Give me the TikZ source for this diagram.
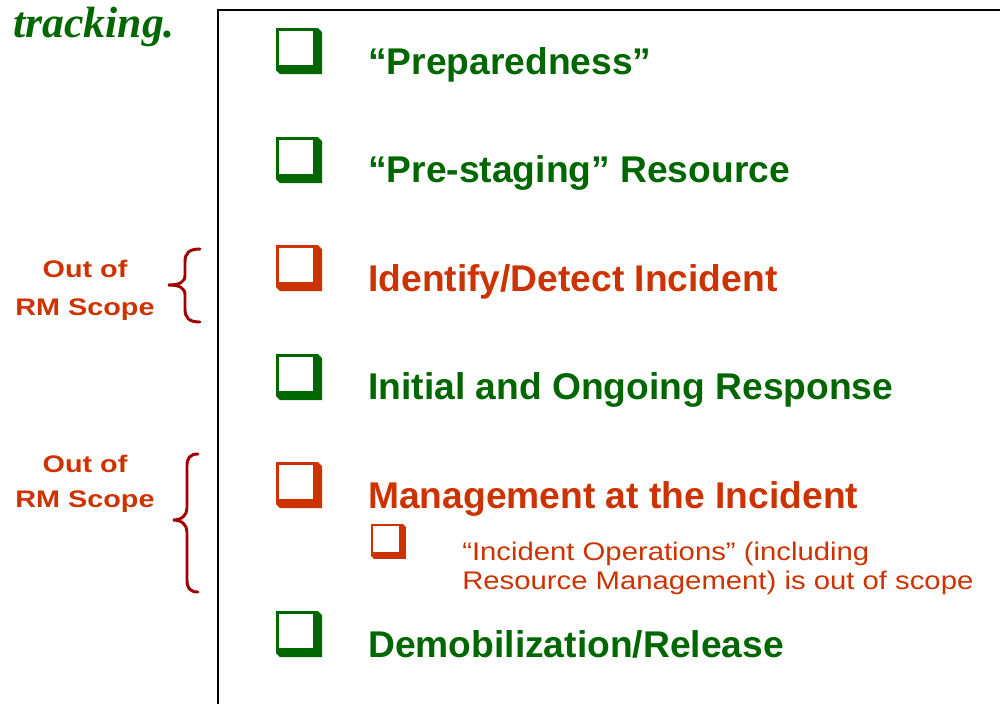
\documentclass[tikz,border=0pt]{standalone}
\usepackage{fontspec}
\setmainfont{Liberation Sans}
\newfontfamily\notefont{Liberation Sans}[FakeStretch=1.15]
\newfontfamily\sidefont{Liberation Sans}[FakeStretch=1.2]
\newfontfamily\headfont{Liberation Serif}
\usepackage{xcolor}
\usepackage{tikz}

\definecolor{rmgreen}{RGB}{0,102,0}
\definecolor{rmred}{RGB}{204,51,0}
\definecolor{bracered}{RGB}{160,0,0}

\tikzset{
  chkbox/.pic={
    \fill (0,0) -- (42,0) -- (46,4) -- (46,46) -- (4,46) -- (0,42) -- cycle;
    \fill[white] (3,3) rectangle (37,37);
  },
  item/.style={anchor=base west, inner sep=0pt, font=\fontsize{27.9}{33}\selectfont\bfseries},
  note/.style={anchor=base west, inner sep=0pt, text=rmred, font=\notefont\fontsize{19.1}{23}\selectfont},
  side/.style={anchor=base, inner sep=0pt, text=rmred, font=\sidefont\fontsize{18}{22}\selectfont\bfseries},
  rmbrace/.style={draw=bracered, line width=2.2pt, line cap=round}
}

\begin{document}
\begin{tikzpicture}[x=0.75pt, y=-0.75pt]
                \useasboundingbox (0,0) rectangle (1000,704);

                %% title
                \node[anchor=base west, inner sep=0pt, text=rmgreen,
                      font=\headfont\fontsize{32.8}{38}\selectfont\bfseries\itshape] (title) at (13,37) {tracking.};

                %% frame
                \draw[black, line width=1.5pt] (218,704) -- (218,10) -- (1000,10);

                %% list
                \pic[rmgreen] at (276,28)  {chkbox};
                \node[item, text=rmgreen] (prep) at (368,74) {“Preparedness”};

                \pic[rmgreen] at (276,137) {chkbox};
                \node[item, text=rmgreen] (stage) at (368,182) {“Pre-staging” Resource};

                \pic[rmred] at (276,245) {chkbox};
                \node[item, text=rmred] (detect) at (368,291) {Identify/Detect Incident};

                \pic[rmgreen] at (276,354) {chkbox};
                \node[item, text=rmgreen] (resp) at (368,399) {Initial and Ongoing Response};

                \pic[rmred] at (276,462) {chkbox};
                \node[item, text=rmred] (mgmt) at (368,508) {Management at the Incident};

                \pic[rmred, scale=0.76] at (371,524) {chkbox};
                \node[note] (ops1) at (462,560) {“Incident Operations” (including};
                \node[note] (ops2) at (462,589) {Resource Management) is out of scope};

                \pic[rmgreen] at (276,611) {chkbox};
                \node[item, text=rmgreen] (demob) at (368,657) {Demobilization/Release};

                %% out of scope
                \node[side] (outa1) at (85,277) {Out of};
                \node[side] (outa2) at (85,315) {RM Scope};
                \draw[rmbrace] (200,249) .. controls (189,249) and (185,253) .. (185,262) -- (185,275)
                    .. controls (185,282) and (180,285) .. (168,285)
                    .. controls (180,285) and (185,288) .. (185,295) -- (185,309)
                    .. controls (185,318) and (189,322) .. (200,322);

                \node[side] (outb1) at (85,472) {Out of};
                \node[side] (outb2) at (85,507) {RM Scope};
                \draw[rmbrace] (198,454) .. controls (190,454) and (187,458) .. (187,466) -- (187,508)
                    .. controls (187,515) and (182,520) .. (173,520)
                    .. controls (182,520) and (187,525) .. (187,532) -- (187,580)
                    .. controls (187,588) and (190,592) .. (198,592);
\end{tikzpicture}
\end{document}
